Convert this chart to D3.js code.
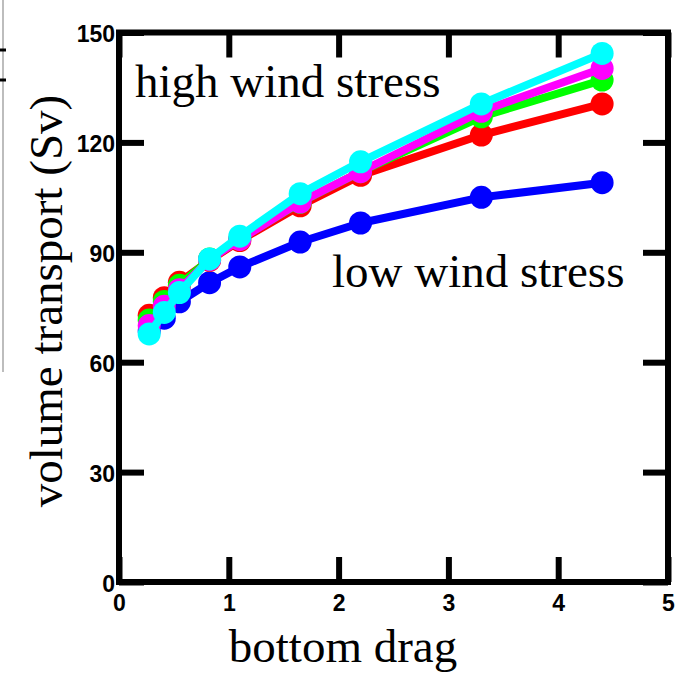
<!DOCTYPE html>
<html>
<head>
<meta charset="utf-8">
<script src="https://cdn.jsdelivr.net/npm/d3@7"></script>
<style>
  body { margin: 0; background: #fff; }
  .tick text { font-family: 'Liberation Sans', Arial, sans-serif; font-weight: bold; font-size: 23px; fill: #000; }
  .lbl { font-family: 'Liberation Serif', 'Times New Roman', serif; font-size: 47px; fill: #000; }
</style>
</head>
<body>
<div id="container"></div>
<script>
const bottomDrag = [0.275, 0.4125, 0.55, 0.825, 1.1, 1.65, 2.2, 3.3, 4.4]
const blueVals = [68.5, 72, 76.5, 81.7, 86, 92.8, 98, 105, 109]
const redVals = [72.8, 77.6, 81.8, 87.8, 93.2, 102.7, 111, 122, 130.5]
const greenVals = [71.5, 76.6, 81, 88.2, 93.6, 103.6, 112, 127, 137]
const magentaVals = [70, 75.3, 79.8, 88, 93.5, 103.7, 112, 128.5, 140.2]
const cyanVals = [67.7, 73.6, 79, 88.2, 94.4, 106, 114.7, 130.5, 144.3]
const xTicks = [0, 1, 2, 3, 4, 5]
const yTicks = [0, 30, 60, 90, 120, 150]

const series = [
  { name: 'blue', color: '#0000ff', values: blueVals },
  { name: 'red', color: '#ff0000', values: redVals },
  { name: 'green', color: '#00ff00', values: greenVals },
  { name: 'magenta', color: '#ff00ff', values: magentaVals },
  { name: 'cyan', color: '#00ffff', values: cyanVals }
]

const width = 686
const height = 677
const plot = { left: 119, right: 668, top: 32.5, bottom: 582 }

const svg = d3.select('#container')
  .append('svg')
  .attr('width', width)
  .attr('height', height)

// leftover edge of a neighbouring panel
svg.append('line')
  .attr('x1', 3).attr('x2', 3).attr('y1', 0).attr('y2', 372)
  .attr('stroke', '#bdbdbd').attr('stroke-width', 2)
svg.selectAll('.edge-mark')
  .data([50, 80])
  .enter().append('line')
  .attr('x1', 0).attr('x2', 6)
  .attr('y1', d => d).attr('y2', d => d)
  .attr('stroke', '#000').attr('stroke-width', 3)

const xScale = d3.scaleLinear().domain([0, 5]).range([plot.left, plot.right])
const yScale = d3.scaleLinear().domain([0, 150]).range([plot.bottom, plot.top])

const tickLen = 25

function styleAxis (g) {
  g.select('.domain').remove()
  g.selectAll('.tick line').attr('stroke', '#000').attr('stroke-width', 6)
}

svg.append('g')
  .attr('transform', `translate(0,${plot.bottom})`)
  .call(d3.axisBottom(xScale).tickValues(xTicks).tickSize(-tickLen).tickPadding(13).tickFormat(d3.format('d')))
  .call(styleAxis)
  .selectAll('.tick text').attr('dy', '0.71em')

svg.append('g')
  .attr('transform', `translate(0,${plot.top})`)
  .call(d3.axisTop(xScale).tickValues(xTicks).tickSize(-tickLen).tickFormat(''))
  .call(styleAxis)

svg.append('g')
  .attr('transform', `translate(${plot.left},0)`)
  .call(d3.axisLeft(yScale).tickValues(yTicks).tickSize(-tickLen).tickPadding(4).tickFormat(d3.format('d')))
  .call(styleAxis)
  .selectAll('.tick text').attr('dy', '0.4em')

svg.append('g')
  .attr('transform', `translate(${plot.right},0)`)
  .call(d3.axisRight(yScale).tickValues(yTicks).tickSize(-tickLen).tickFormat(''))
  .call(styleAxis)

svg.append('rect')
  .attr('x', plot.left)
  .attr('y', plot.top)
  .attr('width', plot.right - plot.left)
  .attr('height', plot.bottom - plot.top)
  .attr('fill', 'none')
  .attr('stroke', '#000')
  .attr('stroke-width', 6)

const line = d3.line()
  .x((d, i) => xScale(bottomDrag[i]))
  .y(d => yScale(d))

series.forEach(s => {
  const g = svg.append('g').attr('class', 'series-' + s.name)
  g.append('path')
    .datum(s.values)
    .attr('fill', 'none')
    .attr('stroke', s.color)
    .attr('stroke-width', 8)
    .attr('stroke-linejoin', 'round')
    .attr('d', line)
  g.selectAll('circle')
    .data(s.values)
    .enter().append('circle')
    .attr('cx', (d, i) => xScale(bottomDrag[i]))
    .attr('cy', d => yScale(d))
    .attr('r', 11.5)
    .attr('fill', s.color)
})

svg.append('text')
  .attr('class', 'lbl')
  .attr('x', 135).attr('y', 97)
  .text('high wind stress')

svg.append('text')
  .attr('class', 'lbl')
  .attr('x', 332).attr('y', 287)
  .text('low wind stress')

svg.append('text')
  .attr('class', 'lbl')
  .attr('text-anchor', 'middle')
  .attr('x', 343).attr('y', 662)
  .text('bottom drag')

svg.append('text')
  .attr('class', 'lbl')
  .attr('text-anchor', 'middle')
  .attr('transform', 'translate(62,301) rotate(-90)')
  .text('volume transport (Sv)')
</script>
</body>
</html>
